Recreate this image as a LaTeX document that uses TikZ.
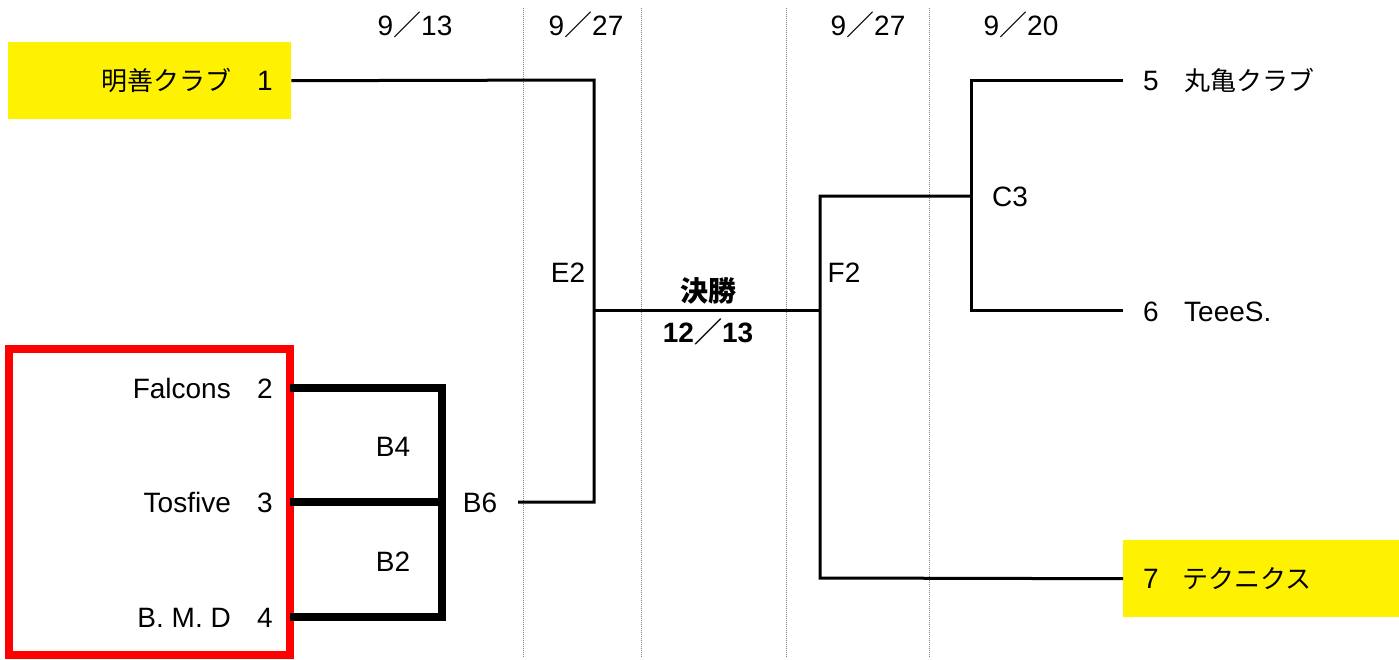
\documentclass[tikz,border=0pt]{standalone}
\usepackage{fontspec}
\setmainfont{Liberation Sans}
\newfontfamily\jp{Noto Sans CJK JP}
\begin{document}
\begin{tikzpicture}[x=1pt,y=-1pt,
  lbl/.style={inner sep=0pt, text height=20pt, text depth=0pt, font=\fontsize{28}{32}\selectfont},
  jlbl/.style={inner sep=0pt, text height=20pt, text depth=0pt, font=\fontsize{26}{30}\selectfont\jp},
  thinline/.style={line width=3pt, line join=miter},
  thickline/.style={line width=8pt, line join=miter},
  guide/.style={gray, line width=0.8pt, dash pattern=on 1pt off 1pt},
  ybox/.style={fill=yellow, draw=none, inner sep=0pt, anchor=north west}]
\useasboundingbox (0,0) rectangle (1399,659);
% guide lines
\foreach \gx in {523,641,786,929} \draw[guide] (\gx,8) -- (\gx,657);
% yellow boxes
\node[ybox, minimum width=283pt, minimum height=77pt] (t1box) at (8,42) {};
\node[ybox, minimum width=276pt, minimum height=77pt] (t7box) at (1123,540) {};
% dates
\node[lbl] (d1) at (415,25) {9{\jp\fontsize{28}{32}\selectfont ／}13};
\node[lbl] (d2) at (586,25) {9{\jp\fontsize{28}{32}\selectfont ／}27};
\node[lbl] (d3) at (868,25) {9{\jp\fontsize{28}{32}\selectfont ／}27};
\node[lbl] (d4) at (1021,25) {9{\jp\fontsize{28}{32}\selectfont ／}20};
% team labels left
\node[jlbl, anchor=east] (n1) at (232,80) {明善クラブ};
\node[lbl] (s1) at (265,80) {1};
\node[lbl, anchor=east] (n2) at (231,388) {Falcons};
\node[lbl] (s2) at (265,388) {2};
\node[lbl, anchor=east] (n3) at (231,502) {Tosfive};
\node[lbl] (s3) at (265,502) {3};
\node[lbl, anchor=east] (n4) at (231,617) {B.\ M.\ D};
\node[lbl] (s4) at (265,617) {4};
% team labels right
\node[lbl] (s5) at (1151,80) {5};
\node[jlbl, anchor=west] (n5) at (1184,80) {丸亀クラブ};
\node[lbl] (s6) at (1151,311) {6};
\node[lbl, anchor=west] (n6) at (1184,311) {TeeeS.};
\node[lbl] (s7) at (1151,578) {7};
\node[jlbl, anchor=west] (n7) at (1182,578) {テクニクス};
% match labels
\node[lbl] (b4) at (393,446) {B4};
\node[lbl] (b2) at (393,561) {B2};
\node[lbl] (b6) at (480,502) {B6};
\node[lbl] (e2) at (568,272) {E2};
\node[lbl] (f2) at (844,272) {F2};
\node[lbl] (c3) at (1010,196) {C3};
\node[jlbl, font=\fontsize{28}{32}\selectfont\jp\bfseries] (fin) at (708,291) {決勝};
\node[lbl, font=\fontsize{28}{32}\selectfont\bfseries] (findate) at (708,332) {12{\jp\bfseries ／}13};
% red frame
\draw[red, line width=8pt] (8.5,349) rectangle (290,655);
% coordinates
\coordinate (p2) at (290,388);
\coordinate (p3) at (290,502);
\coordinate (p4) at (290,617);
\coordinate (b6out) at (518,502);
\coordinate (e2j) at (594,310);
\coordinate (f2j) at (820,310);
\coordinate (c3j) at (971,196);
\coordinate (p5) at (1123,80);
\coordinate (p6) at (1123,310);
% thick bracket
\draw[thickline] (p2) -- (442,388) -- (442,617) -- (p4);
\draw[thickline] (p3) -- (446,502);
% thin brackets
\draw[thinline] (t1box.east) -- (594,80) -- (594,502) -- (b6out);
\draw[thinline] (e2j) -- (f2j);
\draw[thinline] (c3j) -- (820,196) -- (820,578) -- (t7box.west);
\draw[thinline] (p5) -- (971,80) -- (971,310) -- (p6);
\end{tikzpicture}
\end{document}
